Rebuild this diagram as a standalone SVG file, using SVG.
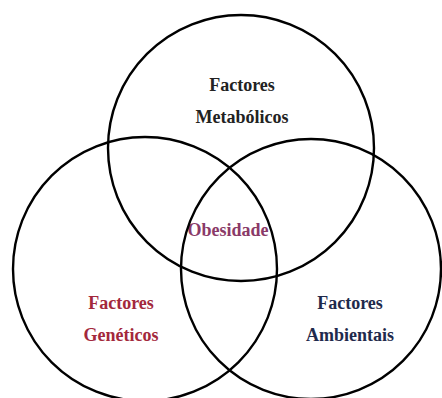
<svg xmlns="http://www.w3.org/2000/svg" width="442" height="398" viewBox="0 0 442 398">
<style>
.t{font-family:"Liberation Serif","Times New Roman",serif;font-weight:bold;font-size:18px;text-anchor:middle}
.c{fill:none;stroke:#000;stroke-width:2.4}
</style>
<rect width="442" height="398" fill="#fff"/>
<g id="labels">
<g id="metabolicos"><text class="t" x="242" y="91" fill="#222">Factores</text><text class="t" x="242" y="123" fill="#222">Metabólicos</text></g>
<g id="obesidade"><text class="t" x="228" y="236" fill="#8a3a68">Obesidade</text></g>
<g id="geneticos"><text class="t" x="121" y="309" fill="#a3283c">Factores</text><text class="t" x="121" y="341" fill="#a3283c">Genéticos</text></g>
<g id="ambientais"><text class="t" x="350" y="309" fill="#1f2a4c">Factores</text><text class="t" x="350" y="341" fill="#1f2a4c">Ambientais</text></g>
</g>
<g id="circles">
<circle id="c-top" class="c" cx="241" cy="148" r="133"/>
<circle id="c-left" class="c" cx="145" cy="269" r="132"/>
<circle id="c-right" class="c" cx="311" cy="269" r="130"/>
</g>
</svg>
